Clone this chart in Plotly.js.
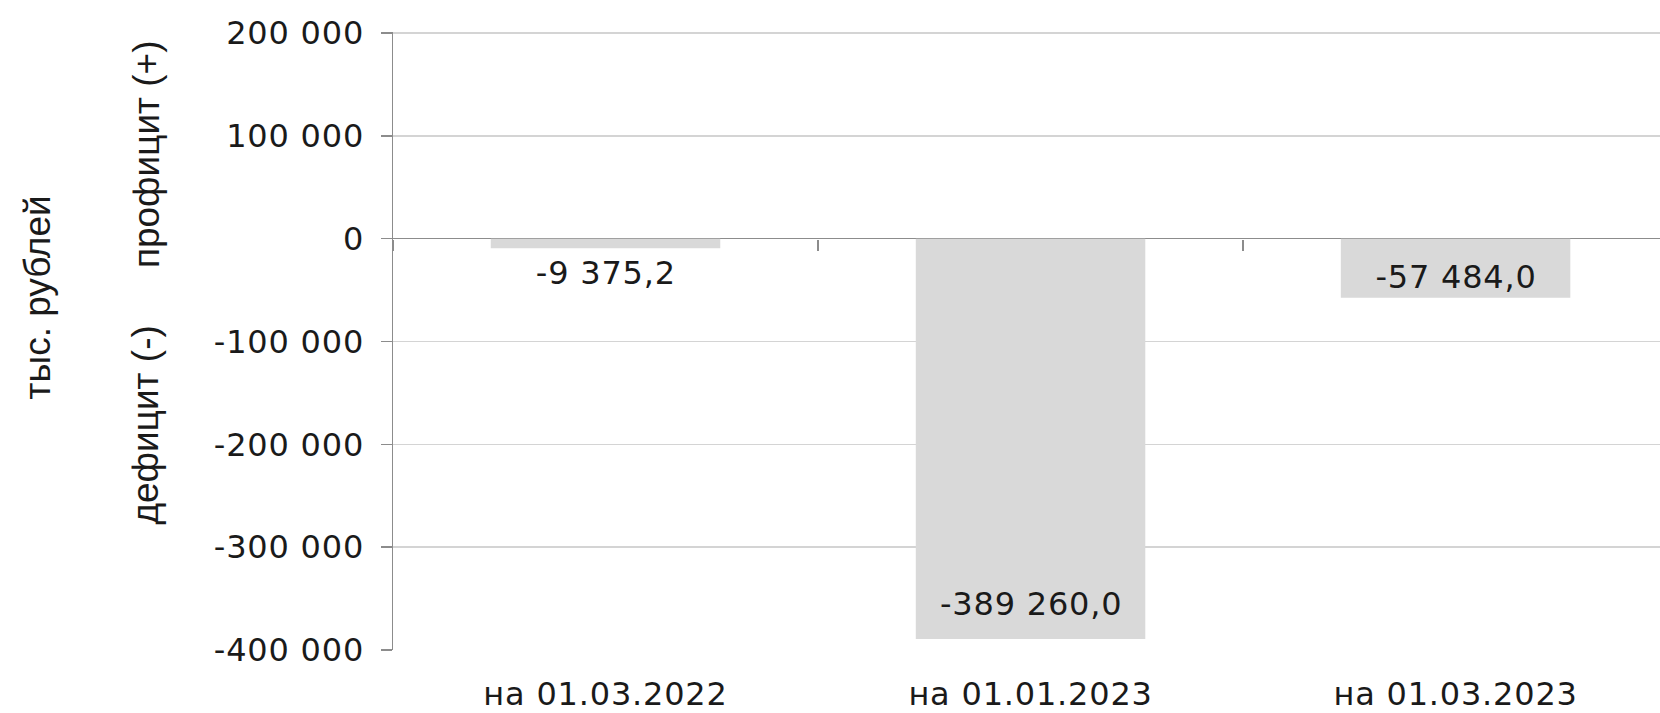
<!DOCTYPE html>
<html>
<head>
<meta charset="utf-8">
<script src="https://cdn.plot.ly/plotly-3.0.1.min.js"></script>
<style>
  html, body { margin: 0; padding: 0; background: #ffffff; }
  #chart { width: 1660px; height: 713px; }
  .xtick text, .ytick text,
  .annotation[data-index="0"] text,
  .annotation[data-index="1"] text,
  .annotation[data-index="2"] text { letter-spacing: 0.8px; }
</style>
</head>
<body>
<div id="chart"></div>
<script>
// ---- data ----
const categories = ["на 01.03.2022", "на 01.01.2023", "на 01.03.2023"];
const values = [-9375.2, -389260.0, -57484.0];
const tickVals = [-400000, -300000, -200000, -100000, 0, 100000, 200000];
const tickText = ["-400 000", "-300 000", "-200 000", "-100 000", "0", "100 000", "200 000"];
const titleUnits = "тыс. рублей";
const titlePlus = "профицит (+)";
const titleMinus = "дефицит (-)";

// ---- styling ----
const labelShift = [-25, 35, 21];   // vertical offset (px, up = +) of each value label from its bar end
const numFont = "DejaVu Sans, Verdana, sans-serif";
const txtFont = "Liberation Sans, Arial, sans-serif";
const ink = "#1a1a1a";
const numSize = 32;

function fmt(v) {
  const sign = v < 0 ? "-" : "";
  const a = Math.abs(v);
  const parts = a.toFixed(1).split(".");
  const intPart = parts[0].replace(/\B(?=(\d{3})+(?!\d))/g, " ");
  return sign + intPart + "," + parts[1];
}

const traces = [
  {
    type: "bar",
    x: categories,
    y: values,
    width: 0.54,
    marker: { color: "#d9d9d9" },
    hoverinfo: "x+y",
    showlegend: false
  },
  {
    // helper trace so that the zero-crossing category axis (boundary ticks) is drawn
    type: "scatter",
    mode: "markers",
    x: categories,
    y: values.map(() => null),
    xaxis: "x2",
    yaxis: "y",
    showlegend: false,
    hoverinfo: "skip"
  }
];

const annotations = values.map((v, i) => ({
  x: categories[i],
  y: v,
  xref: "x",
  yref: "y",
  text: fmt(v),
  showarrow: false,
  xanchor: "center",
  yanchor: "middle",
  yshift: labelShift[i],
  font: { family: numFont, size: numSize, color: ink }
}));

annotations.push(
  { text: titleUnits, xref: "paper", yref: "paper", x: -0.281, y: 0.5705,
    xanchor: "center", yanchor: "middle", textangle: -90, showarrow: false,
    font: { family: txtFont, size: 37, color: ink } },
  { text: titlePlus, xref: "paper", yref: "paper", x: -0.195, y: 0.8023,
    xanchor: "center", yanchor: "middle", textangle: -90, showarrow: false,
    font: { family: txtFont, size: 37, color: ink } },
  { text: titleMinus, xref: "paper", yref: "paper", x: -0.195, y: 0.3647,
    xanchor: "center", yanchor: "middle", textangle: -90, showarrow: false,
    font: { family: txtFont, size: 37, color: ink } }
);

const layout = {
  width: 1660,
  height: 713,
  margin: { l: 393, r: 0, t: 32, b: 63, pad: 0 },
  paper_bgcolor: "#ffffff",
  plot_bgcolor: "#ffffff",
  xaxis: {
    type: "category",
    categoryorder: "array",
    categoryarray: categories,
    range: [-0.5, 2.481],
    showline: false,
    showgrid: false,
    zeroline: false,
    ticks: "",
    ticklabelstandoff: 22,
    tickfont: { family: numFont, size: numSize, color: ink },
    fixedrange: true
  },
  xaxis2: {
    type: "category",
    categoryorder: "array",
    categoryarray: categories,
    overlaying: "x",
    matches: "x",
    anchor: "free",
    position: 400000 / 601000,
    side: "bottom",
    range: [-0.5, 2.481],
    showline: false,
    showgrid: false,
    zeroline: false,
    showticklabels: false,
    tickson: "boundaries",
    ticks: "outside",
    ticklen: 11,
    tickwidth: 1.5,
    tickcolor: "#8c8c8c"
  },
  yaxis: {
    range: [-400000, 201000],
    tickvals: tickVals,
    ticktext: tickText,
    showline: true,
    linecolor: "#8c8c8c",
    linewidth: 1.5,
    ticks: "outside",
    ticklen: 11,
    tickwidth: 1.5,
    tickcolor: "#8c8c8c",
    showgrid: true,
    gridcolor: "#d4d4d4",
    gridwidth: 1.5,
    zeroline: true,
    zerolinecolor: "#8c8c8c",
    zerolinewidth: 1.5,
    ticklabelstandoff: 10,
    tickfont: { family: numFont, size: numSize, color: ink },
    fixedrange: true
  },
  annotations: annotations,
  showlegend: false
};

Plotly.newPlot("chart", traces, layout, { displayModeBar: false, staticPlot: true });
</script>
</body>
</html>
